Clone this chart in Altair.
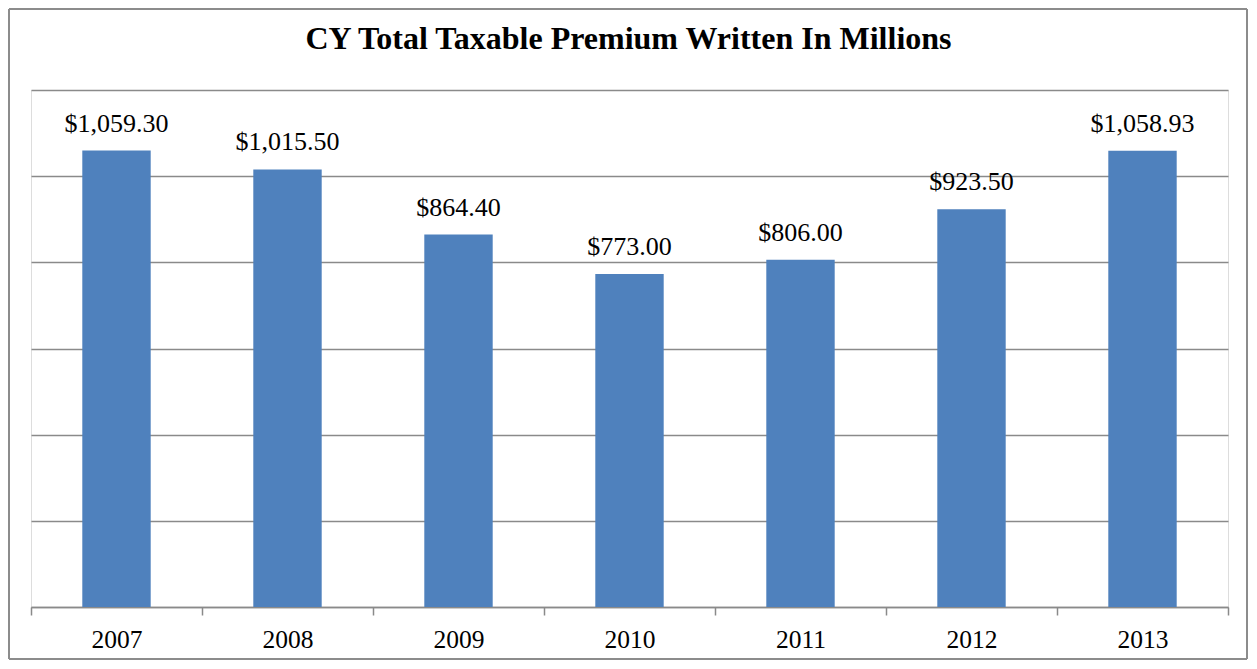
import altair as alt
import pandas as pd

years = ["2007", "2008", "2009", "2010", "2011", "2012", "2013"]
premiums = [1059.30, 1015.50, 864.40, 773.00, 806.00, 923.50, 1058.93]
labels = ["$1,059.30", "$1,015.50", "$864.40", "$773.00", "$806.00", "$923.50", "$1,058.93"]
y_ticks = [0, 200, 400, 600, 800, 1000, 1200]
title_text = ["CY Total Taxable Premium Written In Millions"]

df = pd.DataFrame({"year": years, "value": premiums, "label": labels})

FONT = "Liberation Serif"
GRID = "#8a8a8a"
W, H = 1197, 517

base = alt.Chart(df)

x_enc = alt.X(
    "year:N",
    sort=years,
    title=None,
    scale=alt.Scale(paddingInner=0, paddingOuter=0),
    axis=alt.Axis(
        labelAngle=0,
        labelFont=FONT,
        labelFontSize=25.5,
        labelColor="#000000",
        labelPadding=12,
        tickBand="extent",
        tickSize=8,
        tickColor=GRID,
        tickWidth=1.5,
        domainColor=GRID,
        domainWidth=1.5,
        grid=False,
    ),
)
y_enc = alt.Y(
    "value:Q",
    title=None,
    scale=alt.Scale(domain=[0, 1200], nice=False),
    axis=alt.Axis(
        values=y_ticks,
        labels=False,
        ticks=False,
        domain=False,
        grid=True,
        gridColor=GRID,
        gridWidth=1.5,
    ),
)

bars = base.mark_bar(color="#4F81BD", width=alt.RelativeBandSize(0.4)).encode(x=x_enc, y=y_enc)

text = base.mark_text(
    font=FONT, fontSize=26, color="#000000", align="center", baseline="alphabetic", dy=-19
).encode(x=alt.X("year:N", sort=years), y="value:Q", text="label:N")

title = alt.Chart(pd.DataFrame({"t": title_text})).mark_text(
    font=FONT, fontSize=32, fontWeight="bold", color="#000000",
    align="center", baseline="alphabetic",
).encode(x=alt.value(W / 2 - 1), y=alt.value(-41), text="t:N")

one = pd.DataFrame({"a": [0]})
BORDER = "#8c8c8c"
L, R, T, B = -22, 1216, -81, 569
border_left = alt.Chart(one).mark_rule(color=BORDER, strokeWidth=2).encode(
    x=alt.value(L), y=alt.value(T), y2=alt.value(B))
border_right = alt.Chart(one).mark_rule(color=BORDER, strokeWidth=2).encode(
    x=alt.value(R), y=alt.value(T), y2=alt.value(B))
border_top = alt.Chart(one).mark_rule(color=BORDER, strokeWidth=2).encode(
    x=alt.value(L), x2=alt.value(R), y=alt.value(T))
border_bottom = alt.Chart(one).mark_rule(color=BORDER, strokeWidth=2).encode(
    x=alt.value(L), x2=alt.value(R), y=alt.value(B))

chart = alt.layer(
    bars, text, title, border_left, border_right, border_top, border_bottom
).properties(
    width=W,
    height=H,
    autosize=alt.AutoSizeParams(type="none"),
    padding={"left": 23, "top": 82, "right": 21, "bottom": 54},
).configure_view(stroke=None).configure(background="#ffffff")

chart.save("out.html", embed_options={"renderer": "svg", "actions": False})
